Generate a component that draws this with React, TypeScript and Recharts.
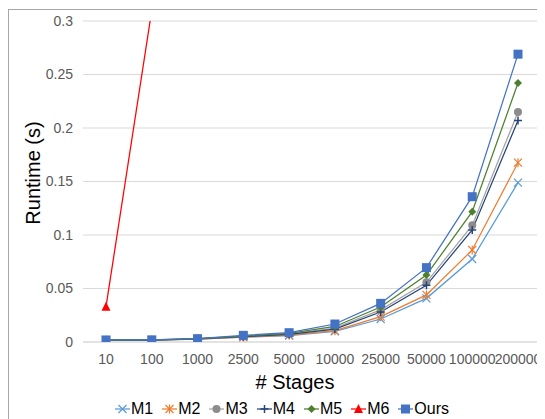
import React from 'react';
import { LineChart, Line, XAxis, YAxis, CartesianGrid, Legend } from 'recharts';

const categories = ['10', '100', '1000', '2500', '5000', '10000', '25000', '50000', '100000', '200000'];
const m1 = [0.0015, 0.0017, 0.0027, 0.0045, 0.0060, 0.0100, 0.0215, 0.0408, 0.0776, 0.149];
const m2 = [0.0016, 0.0018, 0.0028, 0.0046, 0.0064, 0.0106, 0.0237, 0.0440, 0.0860, 0.1676];
const m3 = [0.0017, 0.0019, 0.0030, 0.0052, 0.0074, 0.0130, 0.0300, 0.0558, 0.1090, 0.2150];
const m4 = [0.0016, 0.0018, 0.0029, 0.0050, 0.0071, 0.0120, 0.0280, 0.0530, 0.1047, 0.2070];
const m5 = [0.0017, 0.0019, 0.0031, 0.0055, 0.0080, 0.0145, 0.0327, 0.0626, 0.1218, 0.2420];
const m6 = [0.033, 0.31, null, null, null, null, null, null, null, null];
const ours = [0.0019, 0.0020, 0.0031, 0.0062, 0.0087, 0.0168, 0.0361, 0.0695, 0.1358, 0.2690];
const yTicks = [0, 0.05, 0.1, 0.15, 0.2, 0.25, 0.3];

const seriesDefs = [
  { key: 'M1', values: m1, color: '#5B9BD5', marker: 'x' },
  { key: 'M2', values: m2, color: '#ED7D31', marker: 'star' },
  { key: 'M3', values: m3, color: '#A5A5A5', marker: 'circle', markerColor: '#8C8C8C' },
  { key: 'M4', values: m4, color: '#264478', marker: 'plus' },
  { key: 'M5', values: m5, color: '#4E7F2E', marker: 'diamond' },
  { key: 'M6', values: m6, color: '#FF0000', marker: 'triangle' },
  { key: 'Ours', values: ours, color: '#4472C4', marker: 'square' },
];

const data = categories.map((c, i) => {
  const row: any = { name: c };
  seriesDefs.forEach((s) => {
    row[s.key] = s.values[i];
  });
  return row;
});

function MarkerShape({ type, cx, cy, color }: any) {
  const h = 4;
  switch (type) {
    case 'x':
      return (
        <g>
          <line x1={cx - h} y1={cy - h} x2={cx + h} y2={cy + h} stroke={color} strokeWidth={1.2} />
          <line x1={cx - h} y1={cy + h} x2={cx + h} y2={cy - h} stroke={color} strokeWidth={1.2} />
        </g>
      );
    case 'star':
      return (
        <g>
          <line x1={cx - h} y1={cy - h} x2={cx + h} y2={cy + h} stroke={color} strokeWidth={1.2} />
          <line x1={cx - h} y1={cy + h} x2={cx + h} y2={cy - h} stroke={color} strokeWidth={1.2} />
          <line x1={cx} y1={cy - h - 0.5} x2={cx} y2={cy + h + 0.5} stroke={color} strokeWidth={1.2} />
        </g>
      );
    case 'circle':
      return <circle cx={cx} cy={cy} r={4} fill={color} />;
    case 'plus':
      return (
        <g>
          <line x1={cx - h} y1={cy} x2={cx + h} y2={cy} stroke={color} strokeWidth={1.5} />
          <line x1={cx} y1={cy - h} x2={cx} y2={cy + h} stroke={color} strokeWidth={1.5} />
        </g>
      );
    case 'diamond':
      return <polygon points={`${cx},${cy - 4} ${cx + 4},${cy} ${cx},${cy + 4} ${cx - 4},${cy}`} fill={color} />;
    case 'triangle':
      return <polygon points={`${cx},${cy - 5} ${cx + 4.5},${cy + 4} ${cx - 4.5},${cy + 4}`} fill={color} />;
    case 'square':
      return <rect x={cx - 4.5} y={cy - 4.5} width={9} height={9} fill={color} />;
    default:
      return null;
  }
}

const makeDot = (s: any) => (p: any) => {
  if (p.cy == null || p.value == null || (Array.isArray(p.value) && p.value[1] == null)) {
    return <g key={`${s.key}-${p.index}`} />;
  }
  return (
    <g key={`${s.key}-${p.index}`}>
      <MarkerShape type={s.marker} cx={p.cx} cy={p.cy} color={s.markerColor || s.color} />
    </g>
  );
};

const renderLegend = () => (
  <div
    style={{
      width: 546,
      display: 'flex',
      justifyContent: 'center',
      alignItems: 'center',
      gap: 9,
      fontFamily: '"Liberation Sans", Arial, sans-serif',
      fontSize: 16,
      color: '#000',
      height: 22,
    }}
  >
    {seriesDefs.map((s) => (
      <div key={s.key} style={{ display: 'flex', alignItems: 'center' }}>
        <svg width={15} height={12} style={{ marginRight: 1 }}>
          <line x1={0} y1={6} x2={15} y2={6} stroke={s.color} strokeWidth={1.25} />
          <MarkerShape type={s.marker} cx={7.5} cy={6} color={s.markerColor || s.color} />
        </svg>
        <span>{s.key}</span>
      </div>
    ))}
  </div>
);

const YLabel = (props: any) => {
  const vb = props.viewBox || { x: 0, y: 0, width: 0, height: 0 };
  const x = vb.x + 23.5;
  const y = vb.y + vb.height / 2 - 8.5;
  return (
    <text
      x={x}
      y={y}
      transform={`rotate(-90, ${x}, ${y})`}
      textAnchor="middle"
      dominantBaseline="central"
      fontSize={20}
      fill="#000"
      fontFamily='"Liberation Sans", Arial, sans-serif'
    >
      Runtime (s)
    </text>
  );
};

const XLabel = (props: any) => {
  const vb = props.viewBox || { x: 0, y: 0, width: 0, height: 0 };
  const x = vb.x + vb.width / 2 - 17;
  const y = vb.y + 47;
  return (
    <text x={x} y={y} textAnchor="middle" fontSize={20} fill="#000" fontFamily='"Liberation Sans", Arial, sans-serif'>
      # Stages
    </text>
  );
};

export default function App() {
  const tickStyle = { fill: '#595959', fontSize: 14, fontFamily: '"Liberation Sans", Arial, sans-serif' };
  return (
    <div
      style={{
        marginTop: 1,
        width: 548,
        height: 420,
        border: '1px solid #A6A6A6',
        boxSizing: 'border-box',
        background: '#fff',
      }}
    >
      <LineChart width={546} height={410} data={data} margin={{ top: 11, right: 14, left: 0, bottom: 0 }}>
        <CartesianGrid horizontal vertical={false} stroke="#D9D9D9" strokeWidth={1} />
        <XAxis
          dataKey="name"
          height={56}
          interval={0}
          padding={{ left: 23, right: 23 }}
          tickLine={false}
          axisLine={{ stroke: '#D9D9D9' }}
          tickSize={0}
          tickMargin={12}
          tick={tickStyle}
          label={<XLabel />}
        />
        <YAxis
          width={74}
          domain={[0, 0.3]}
          ticks={yTicks}
          allowDataOverflow
          axisLine={false}
          tickLine={false}
          tickSize={0}
          tickMargin={10}
          tick={tickStyle}
          label={<YLabel />}
        />
        <Legend
          verticalAlign="bottom"
          height={22}
          wrapperStyle={{ left: 0, width: 546, bottom: 0 }}
          content={renderLegend}
        />
        {seriesDefs.map((s) => (
          <Line
            key={s.key}
            type="linear"
            dataKey={s.key}
            stroke={s.color}
            strokeWidth={1.25}
            dot={makeDot(s)}
            activeDot={false}
            isAnimationActive={false}
            connectNulls={false}
          />
        ))}
      </LineChart>
    </div>
  );
}
